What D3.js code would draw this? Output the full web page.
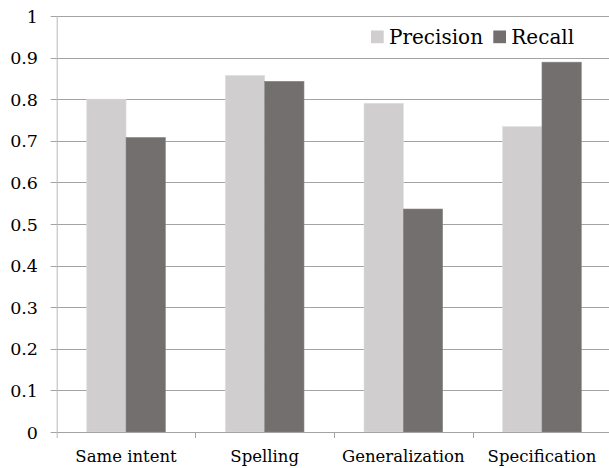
<!DOCTYPE html>
<html><head><meta charset="utf-8">
<script src="https://cdn.jsdelivr.net/npm/d3@7"></script>
<style>body{margin:0;background:#fff}svg{display:block}text{font-family:'DejaVu Serif',serif}</style>
</head><body>
<script>
const categories = ["Same intent", "Spelling", "Generalization", "Specification"];
const seriesNames = ["Precision", "Recall"];
const precision = [0.800, 0.857, 0.790, 0.734];
const recall = [0.708, 0.843, 0.536, 0.889];
const yTicks = [0, 0.1, 0.2, 0.3, 0.4, 0.5, 0.6, 0.7, 0.8, 0.9, 1];
const colors = ["#d0cecf", "#736f6e"];

const W = 609, H = 468;
const mLeft = 56.7, mRight = 611.3, mTop = 16, mBottom = 432;
const svg = d3.select("body").append("svg").attr("width", W).attr("height", H);

const y = d3.scaleLinear().domain([0, 1]).range([mBottom, mTop]);
const x = d3.scaleBand().domain(categories).range([mLeft, mRight]).paddingInner(0).paddingOuter(0);
const bw = 39.3;
const pad = (x.bandwidth() - 2 * bw) / 2;
const xs = d3.scaleBand().domain(seriesNames).range([pad, pad + 2 * bw]);

// gridlines
svg.append("g").selectAll("line").data(yTicks.filter(d => d > 0)).join("line")
  .attr("x1", mLeft - 6).attr("x2", W)
  .attr("y1", d => Math.round(y(d)) + 0.5).attr("y2", d => Math.round(y(d)) + 0.5)
  .attr("stroke", "#a3a3a3").attr("stroke-width", 1);

// y labels
svg.append("g").selectAll("text").data(yTicks).join("text")
  .attr("x", 38).attr("y", d => y(d) + 6.5)
  .attr("text-anchor", "end")
  .attr("font-size", 17.5).attr("fill", "#000")
  .text(d => d3.format("")(d));

// bars
const data = categories.map((c, i) => ({c, vals: [precision[i], recall[i]]}));
const g = svg.append("g");
data.forEach(d => {
  seriesNames.forEach((s, j) => {
    g.append("rect")
      .attr("x", x(d.c) + xs(s))
      .attr("y", y(d.vals[j]))
      .attr("width", xs.bandwidth())
      .attr("height", mBottom - y(d.vals[j]))
      .attr("fill", colors[j])
      .attr("stroke", j === 0 ? "#dedede" : "#888483")
      .attr("stroke-width", 0.6);
  });
});

// axes lines
svg.append("line").attr("x1", mLeft - 6).attr("x2", W).attr("y1", mBottom + 0.5).attr("y2", mBottom + 0.5)
  .attr("stroke", "#a3a3a3");
svg.append("line").attr("x1", mLeft + 0.5).attr("x2", mLeft + 0.5).attr("y1", mTop).attr("y2", mBottom + 6)
  .attr("stroke", "#b8b8b8");
// category ticks
svg.append("g").selectAll("line").data(categories.slice(1)).join("line")
  .attr("x1", d => Math.round(x(d)) + 0.5).attr("x2", d => Math.round(x(d)) + 0.5)
  .attr("y1", mBottom).attr("y2", mBottom + 6).attr("stroke", "#a3a3a3");

// category labels
svg.append("g").selectAll("text").data(categories).join("text")
  .attr("x", d => x(d) + x.bandwidth() / 2).attr("y", 462)
  .attr("text-anchor", "middle")
  .attr("font-size", 16.5).attr("fill", "#000")
  .text(d => d);

// legend
const legX = [371, 493.3];
const lg = svg.append("g");
seriesNames.forEach((s, j) => {
  lg.append("rect").attr("x", legX[j]).attr("y", 30.5).attr("width", 12.7).attr("height", 12.7).attr("fill", colors[j]);
  lg.append("text").attr("x", legX[j] + 18).attr("y", 44)
    .attr("font-size", 20).attr("fill", "#000").text(s);
});
</script>
</body></html>
